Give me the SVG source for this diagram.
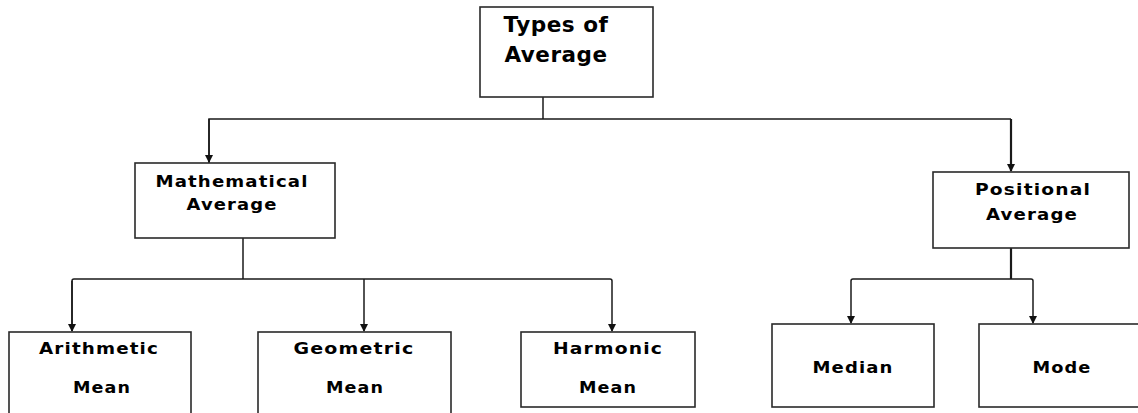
<svg xmlns="http://www.w3.org/2000/svg" width="1138" height="413" viewBox="0 0 1138 413">
  <defs>
    <marker id="head" markerUnits="userSpaceOnUse" markerWidth="8" markerHeight="8" viewBox="0 0 8 8" refX="7" refY="4" orient="auto">
      <path d="M0,0 L8,4 L0,8 Z" fill="#111"/>
    </marker>
    <style>
      .box { fill: #ffffff; stroke: #2a2a2a; stroke-width: 1.6; }
      .lbl { font-family: "DejaVu Sans", "Liberation Sans", sans-serif; font-weight: bold; font-size: 16px; letter-spacing: 1px; fill: #000; text-anchor: middle; }
      .big { font-size: 21px; letter-spacing: 0.5px; }
      .wire { fill: none; stroke: #1a1a1a; stroke-width: 1.5; }
      .thick { stroke-width: 2.2; }
    </style>
  </defs>
  <rect width="1138" height="413" fill="#ffffff"/>

  <!-- connectors -->
  <g id="connectors">
    <path class="wire" d="M543,97 V119"/>
    <path class="wire" d="M209,163 V119 H1011"/>
    <path class="wire" d="M209,119 V162" marker-end="url(#head)"/>
    <path class="wire thick" d="M1011,119 V171" marker-end="url(#head)"/>
    <path class="wire" d="M243,238 V279"/>
    <path class="wire" d="M72,331 V281 Q72,279 74,279 H610 Q612,279 612,281"/>
    <path class="wire" d="M72,281 V331" marker-end="url(#head)"/>
    <path class="wire" d="M364,279 V331" marker-end="url(#head)"/>
    <path class="wire" d="M612,281 V331" marker-end="url(#head)"/>
    <path class="wire thick" d="M1011,248 V279"/>
    <path class="wire" d="M851,281 Q851,279 853,279 H1031 Q1033,279 1033,281"/>
    <path class="wire" d="M851,281 V323" marker-end="url(#head)"/>
    <path class="wire" d="M1033,281 V323" marker-end="url(#head)"/>
  </g>

  <g id="types-of-average">
    <rect class="box" x="480" y="7" width="173" height="90"/>
    <text class="lbl big" x="556" y="32" textLength="105" lengthAdjust="spacingAndGlyphs">Types of</text>
    <text class="lbl big" x="556" y="62" textLength="103" lengthAdjust="spacingAndGlyphs">Average</text>
  </g>

  <g id="mathematical-average">
    <rect class="box" x="135" y="163" width="200" height="75"/>
    <text class="lbl" x="232" y="187" textLength="153" lengthAdjust="spacingAndGlyphs">Mathematical</text>
    <text class="lbl" x="232" y="210" textLength="91" lengthAdjust="spacingAndGlyphs">Average</text>
  </g>

  <g id="positional-average">
    <rect class="box" x="933" y="172" width="196" height="76"/>
    <text class="lbl" x="1033" y="195" textLength="116" lengthAdjust="spacingAndGlyphs">Positional</text>
    <text class="lbl" x="1032" y="220" textLength="92" lengthAdjust="spacingAndGlyphs">Average</text>
  </g>

  <g id="arithmetic-mean">
    <rect class="box" x="9" y="332" width="182" height="90"/>
    <text class="lbl" x="99" y="354" textLength="120" lengthAdjust="spacingAndGlyphs">Arithmetic</text>
    <text class="lbl" x="102" y="393" textLength="58" lengthAdjust="spacingAndGlyphs">Mean</text>
  </g>

  <g id="geometric-mean">
    <rect class="box" x="258" y="332" width="193" height="90"/>
    <text class="lbl" x="354" y="354" textLength="121" lengthAdjust="spacingAndGlyphs">Geometric</text>
    <text class="lbl" x="355" y="393" textLength="58" lengthAdjust="spacingAndGlyphs">Mean</text>
  </g>

  <g id="harmonic-mean">
    <rect class="box" x="521" y="332" width="174" height="75"/>
    <text class="lbl" x="608" y="354" textLength="110" lengthAdjust="spacingAndGlyphs">Harmonic</text>
    <text class="lbl" x="608" y="393" textLength="58" lengthAdjust="spacingAndGlyphs">Mean</text>
  </g>

  <g id="median">
    <rect class="box" x="772" y="324" width="162" height="83"/>
    <text class="lbl" x="853" y="373" textLength="81" lengthAdjust="spacingAndGlyphs">Median</text>
  </g>

  <g id="mode">
    <rect class="box" x="979" y="324" width="170" height="83"/>
    <text class="lbl" x="1062" y="373" textLength="59" lengthAdjust="spacingAndGlyphs">Mode</text>
  </g>
</svg>
